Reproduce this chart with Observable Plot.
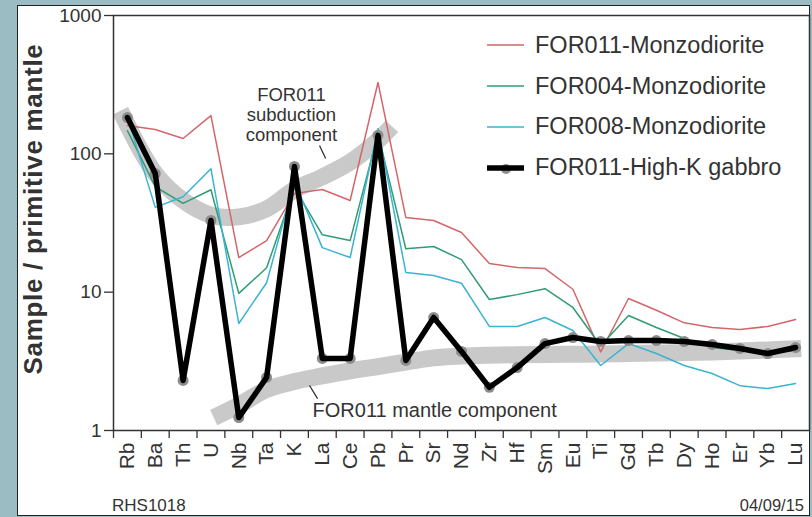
<!DOCTYPE html>
<html>
<head>
<meta charset="utf-8">
<script src="https://cdn.jsdelivr.net/npm/d3@7"></script>
<script src="https://cdn.jsdelivr.net/npm/@observablehq/plot@0.6"></script>
<style>
  html, body { margin: 0; padding: 0; }
  body { width: 812px; height: 517px; background: #9bbcc3; position: relative; overflow: hidden;
         font-family: "Liberation Sans", Arial, Helvetica, sans-serif; color: #333; }
  #panel { position: absolute; left: 17px; top: 5px; width: 793px; height: 511px; background: #fff;
           border: 1.5px solid #222; box-sizing: border-box; }
  #chart { position: absolute; left: 0; top: 0; }
  #ytitle { position: absolute; left: 33px; top: 209px; transform: translate(-50%, -50%) rotate(-90deg);
            white-space: nowrap; font-weight: bold; font-size: 26px; letter-spacing: 0.7px; color: #333; }
  #legend { position: absolute; left: 487px; top: 25px; }
  .row { display: flex; align-items: center; height: 40.8px; }
  .row svg { margin-right: 11px; }
  .row span { font-size: 23.5px; color: #333; white-space: nowrap; }
  #left-note { position: absolute; left: 112px; top: 497px; font-size: 17px; line-height: 17px; color: #333; }
  #right-note { position: absolute; right: 8px; top: 497px; font-size: 16.5px; line-height: 17px; color: #333; }
</style>
</head>
<body>
<div id="panel"></div>
<div id="chart"></div>
<div id="ytitle">Sample / primitive mantle</div>
<div id="legend"></div>
<div id="left-note">RHS1018</div>
<div id="right-note">04/09/15</div>
<script>
// Element order (x categories)
const elements = ["Rb","Ba","Th","U","Nb","Ta","K","La","Ce","Pb","Pr","Sr","Nd","Zr","Hf","Sm","Eu","Ti","Gd","Tb","Dy","Ho","Er","Yb","Lu"];

// Primitive-mantle normalised values
const for011Monzo  = [160,150,129,189,17.8,23.6,51.7,55.2,46,328,34.7,33,27,16.1,15.1,14.8,10.5,3.7,9.0,7.4,6.0,5.55,5.37,5.65,6.35];
const for004Monzo  = [147,58,43.8,55,9.8,15,57,26,23.6,140,20.6,21.4,17.2,8.85,9.6,10.6,7.75,4.1,6.78,5.55,4.62,3.98,3.79,3.67,3.75];
const for008Monzo  = [185,41,49,78,5.94,11.7,63,21,17.8,152,13.9,13.2,11.6,5.65,5.65,6.56,5.28,2.95,4.25,3.6,2.95,2.58,2.11,2.01,2.19];
const for011Gabbro = [183,72,2.30,33,1.24,2.42,81,3.32,3.32,136,3.21,6.56,3.73,2.05,2.85,4.25,4.70,4.40,4.47,4.47,4.4,4.19,3.92,3.6,3.98];

// Schematic component bands (position index along elements, value)
const subductionBandX = [-0.25, 1, 2, 3, 4, 5, 6, 7, 8, 9, 9.5];
const subductionBandY = [205, 72, 46, 36, 35, 40, 55, 68, 87, 125, 158];
const mantleBandX = [3.1, 4, 5, 6, 7, 8, 9, 10, 11, 12, 13, 14, 15, 16, 17, 18, 19, 20, 21, 22, 23, 24, 24.2];
const mantleBandY = [1.24, 1.52, 1.98, 2.26, 2.48, 2.7, 2.9, 3.12, 3.35, 3.45, 3.5, 3.53, 3.55, 3.56, 3.57, 3.6, 3.63, 3.66, 3.7, 3.75, 3.82, 3.9, 3.92];

const seriesNames  = ["FOR011-Monzodiorite", "FOR004-Monzodiorite", "FOR008-Monzodiorite", "FOR011-High-K gabbro"];
const seriesColors = ["#d4666b", "#2f9c74", "#3bb3d1", "#000000"];
const yTicks = [1, 10, 100, 1000];

const toRows = (vals) => vals.map((v, i) => ({i, v}));
const bandRows = (xs, ys) => xs.map((x, k) => ({i: x, v: ys[k]}));

const subductionLabel = [{i: 5.89, v: 192, text: "FOR011\nsubduction\ncomponent"}];
const mantleLabel = [{i: 6.65, v: 1.395, text: "FOR011 mantle component"}];
const leaders = [
  {x1: 6.90, y1: 114.9, x2: 7.12, y2: 92.5},
  {x1: 6.54, y1: 2.115, x2: 6.83, y2: 1.70}
];

const bandColor = "#c6c6c6";

const chart = Plot.plot({
  width: 812,
  height: 517,
  marginLeft: 113,
  marginRight: 3,
  marginTop: 15,
  marginBottom: 87,
  style: {background: "transparent", fontFamily: "'Liberation Sans', Arial, Helvetica, sans-serif", color: "#333", overflow: "visible"},
  x: {domain: [-0.5, 24.5]},
  y: {type: "log", domain: [1, 1000]},
  marks: [
    Plot.line(bandRows(subductionBandX, subductionBandY), {x: "i", y: "v", curve: "catmull-rom", stroke: bandColor, strokeWidth: 17, strokeLinecap: "butt", strokeOpacity: 0.95}),
    Plot.line(bandRows(mantleBandX, mantleBandY), {x: "i", y: "v", curve: "catmull-rom", stroke: bandColor, strokeWidth: 17, strokeLinecap: "butt", strokeOpacity: 0.95}),
    Plot.line(toRows(for011Monzo), {x: "i", y: "v", stroke: seriesColors[0], strokeWidth: 1.5}),
    Plot.line(toRows(for004Monzo), {x: "i", y: "v", stroke: seriesColors[1], strokeWidth: 1.5}),
    Plot.line(toRows(for008Monzo), {x: "i", y: "v", stroke: seriesColors[2], strokeWidth: 1.5}),
    Plot.dot(toRows(for011Gabbro), {x: "i", y: "v", r: 5.5, fill: "#8d8d8d", stroke: "none"}),
    Plot.line(toRows(for011Gabbro), {x: "i", y: "v", stroke: seriesColors[3], strokeWidth: 5.5, strokeLinejoin: "round"}),
    Plot.text(subductionLabel, {x: "i", y: "v", text: "text", textAnchor: "middle", fontSize: 18.5, lineHeight: 1.06, fill: "#333"}),
    Plot.text(mantleLabel, {x: "i", y: "v", text: "text", textAnchor: "start", fontSize: 20, fill: "#333"}),
    Plot.link(leaders, {x1: "x1", y1: "y1", x2: "x2", y2: "y2", stroke: "#333", strokeWidth: 1.3}),
    Plot.frame({stroke: "#333", strokeWidth: 1.5}),
    Plot.axisX(d3.range(elements.length), {tickSize: 0, tickPadding: 12, tickRotate: -90, tickFormat: (i) => elements[i], fontSize: 21, color: "#333", label: null}),
    Plot.axisX(d3.range(-0.5, elements.length - 1, 1), {tickSize: 8, tickFormat: () => "", stroke: "#333", strokeWidth: 1.3, label: null}),
    Plot.axisY(yTicks, {tickSize: 9, tickPadding: 3, fontSize: 19, tickFormat: (d) => String(d), color: "#333", strokeWidth: 1.3, label: null})
  ]
});
document.getElementById("chart").appendChild(chart);

// Legend
const legend = document.getElementById("legend");
seriesNames.forEach((name, k) => {
  const row = document.createElement("div");
  row.className = "row";
  const isGabbro = k === 3;
  row.innerHTML = `<svg width="37" height="14" viewBox="0 0 37 14">${
    isGabbro
      ? `<circle cx="19" cy="8" r="5" fill="#8d8d8d"/><line x1="0" y1="7" x2="37" y2="7" stroke="#000" stroke-width="5.5"/>`
      : `<line x1="0" y1="7" x2="37" y2="7" stroke="${seriesColors[k]}" stroke-width="1.5"/>`
  }</svg><span>${name}</span>`;
  legend.appendChild(row);
});
</script>
</body>
</html>
